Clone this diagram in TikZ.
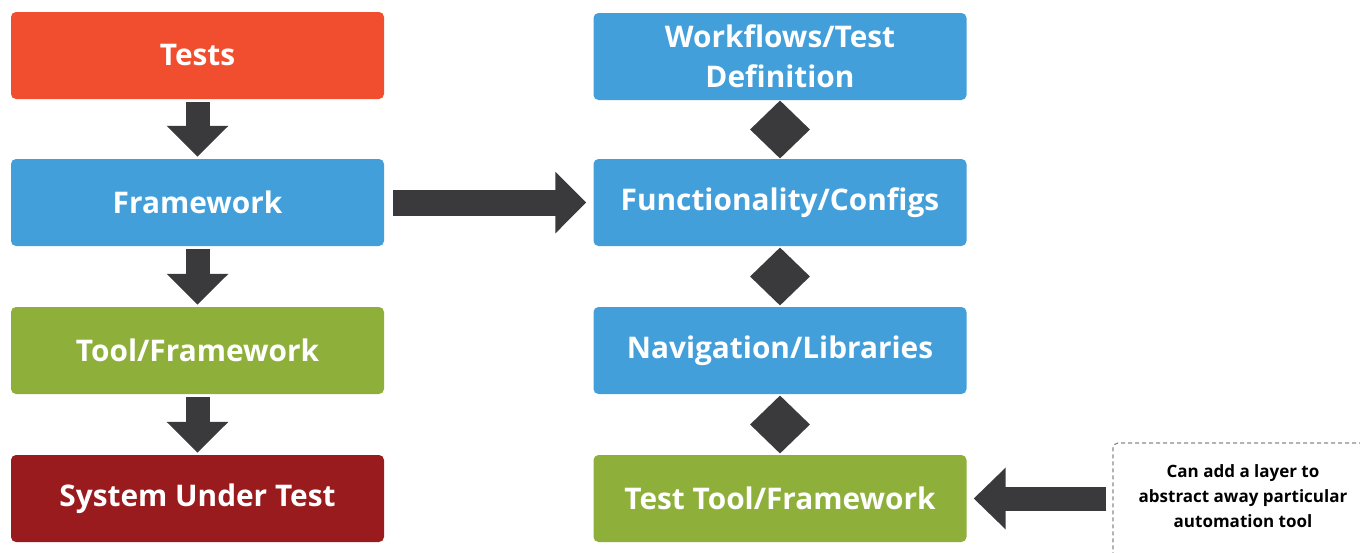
\documentclass[tikz,border=0pt]{standalone}
\usepackage{fontspec}
\setmainfont{Open Sans}
\usetikzlibrary{arrows.meta,shapes.geometric,calc}
\definecolor{cred}{HTML}{F04E2F}
\definecolor{cblue}{HTML}{429FDA}
\definecolor{cgreen}{HTML}{8EB03B}
\definecolor{cdark}{HTML}{9A1B1E}
\definecolor{carrow}{HTML}{3A3A3C}
\definecolor{cdash}{HTML}{8A8A8A}
\tikzset{
  box/.style={rounded corners=5pt, minimum width=373pt, minimum height=87pt, inner sep=0pt,
    text=white, align=center, font=\fontsize{29.8}{40}\selectfont\bfseries},
  bigarrow/.style={draw=carrow, line width=#1},
  dia/.style={diamond, fill=carrow, minimum width=60pt, minimum height=58pt, inner sep=0pt, aspect=1},
}
\begin{document}
\begin{tikzpicture}[x=1pt,y=-1pt]
\useasboundingbox (0,0) rectangle (1360,552);
% left column
\node[box, fill=cred]   (tests) at (197.5,55.5) {Tests};
\node[box, fill=cblue]  (fw)    at (197.5,202.5) {Framework};
\node[box, fill=cgreen] (tool)  at (197.5,350.5) {Tool/Framework};
\node[box, fill=cdark]  (sut)   at (197.5,498.5) {System Under Test};
% right column
\node[box, fill=cblue]  (wf)    at (780,56.5) {Workflows/Test\\Definition};
\node[box, fill=cblue]  (func)  at (780,202.5) {Functionality/Configs};
\node[box, fill=cblue]  (nav)   at (780,350.5) {Navigation/Libraries};
\node[box, fill=cgreen] (ttf)   at (780,498.5) {Test Tool/Framework};
% note
\node[draw=cdash, dashed, line width=1.2pt, dash pattern=on 4pt off 3pt, rounded corners=5pt,
      minimum width=262pt, minimum height=130pt] (note) at (1244,508) {};
\node[align=center, text=black, font=\fontsize{17}{25}\selectfont\bfseries] (notetext) at (1243,496)
  {Can add a layer to\\abstract away particular\\automation tool};
% down arrows
\draw[bigarrow=24pt, -{Triangle[length=31pt,width=60pt]}, shorten <=3pt, shorten >=2pt] (tests.south) -- (fw.north);
\draw[bigarrow=24pt, -{Triangle[length=31pt,width=60pt]}, shorten <=3pt, shorten >=2pt] (fw.south) -- (tool.north);
\draw[bigarrow=24pt, -{Triangle[length=31pt,width=60pt]}, shorten <=3pt, shorten >=2pt] (tool.south) -- (sut.north);
% right arrow
\draw[bigarrow=26pt, -{Triangle[length=31pt,width=60pt]}, shorten <=9pt, shorten >=7pt] (fw.east) -- (func.west);
% left arrow
\draw[bigarrow=24pt, -{Triangle[length=32pt,width=60pt]}, shorten <=6pt, shorten >=7pt] (note.west |- ttf.east) -- (ttf.east);
% diamonds
\node[dia] (d1) at ($(wf.south)!0.5!(func.north)$) {};
\node[dia] (d2) at ($(func.south)!0.5!(nav.north)$) {};
\node[dia] (d3) at ($(nav.south)!0.5!(ttf.north)$) {};
\end{tikzpicture}
\end{document}
